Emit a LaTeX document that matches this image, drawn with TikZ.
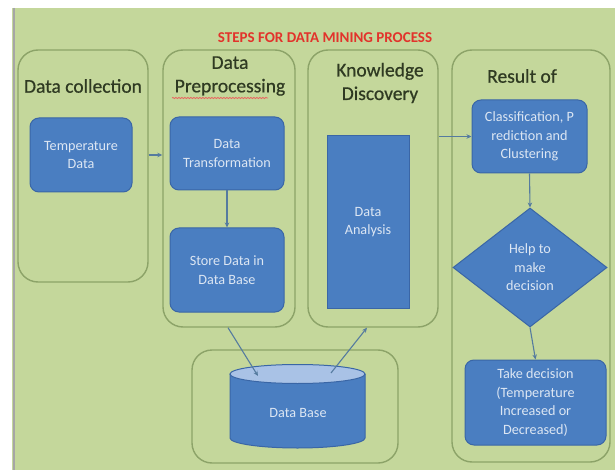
\documentclass[tikz,border=0pt]{standalone}
\usepackage{fontspec}
\setmainfont{Carlito}
\newfontfamily\headfont{Carlito}[FakeBold=0.6]
\usetikzlibrary{shapes.geometric,arrows.meta,calc,decorations.pathmorphing}
\definecolor{bggreen}{HTML}{C4D79B}
\definecolor{colline}{HTML}{8CA368}
\definecolor{boxblue}{HTML}{4A7EC1}
\definecolor{boxedge}{HTML}{3A66A6}
\definecolor{boxtext}{HTML}{DCE6F3}
\definecolor{dbtop}{HTML}{A9C2E6}
\definecolor{conn}{HTML}{557B9F}
\definecolor{titlered}{HTML}{E2332B}
\definecolor{headtext}{HTML}{2F3A22}
\tikzset{
  colbox/.style={draw=colline, line width=1.4pt, rounded corners=20pt, inner sep=0pt},
  bluebox/.style={fill=boxblue, draw=boxedge, line width=1pt, rounded corners=9pt,
    inner sep=0pt, align=center, text=boxtext, font=\fontsize{14.2}{18.6}\selectfont},
  plainbox/.style={bluebox, rounded corners=0pt},
  decide/.style={bluebox, diamond, rounded corners=0pt},
  heading/.style={align=center, text=headtext, font=\headfont\fontsize{19.5}{23.5}\selectfont},
  arr/.style={draw=conn, line width=1.1pt, -{Stealth[length=5pt,width=4.5pt]}},
}
\begin{document}
\begin{tikzpicture}[x=1pt,y=-1pt]
\useasboundingbox (0,0) rectangle (615,470);
\fill[white] (0,0) rectangle (615,470);
\fill[bggreen] (12,8) rectangle (615,470);
\draw[gray!70, line width=1.2pt] (14,8) -- (14,470);

% title
\node[text=titlered, font=\bfseries\fontsize{15}{17}\selectfont] (title) at (325,38) {STEPS FOR DATA MINING PROCESS};

% the four stage columns and the database frame
\node[colbox, minimum width=130pt, minimum height=232pt] (c1) at (83,166) {};
\node[colbox, minimum width=132pt, minimum height=277pt] (c2) at (229,188.5) {};
\node[colbox, minimum width=130pt, minimum height=277pt] (c3) at (373,188.5) {};
\node[colbox, minimum width=158pt, minimum height=412pt] (c4) at (531,256) {};
\node[colbox, minimum width=206pt, minimum height=113pt] (c5) at (295,406.5) {};

% column headings
\node[heading] (h1) at (83,86) {Data collection};
\node[heading] (h2) at (230,76) {Data\\Preprocessing};
\node[heading] (h3) at (380,83) {Knowledge\\Discovery};
\node[heading] (h4) at (522,76) {Result of};
\draw[titlered!75, line width=0.8pt, decorate,
      decoration={snake, amplitude=0.6pt, segment length=3pt}] (172,98) -- (268,98);

% process boxes
\node[bluebox, minimum width=102pt, minimum height=74pt] (temp) at (81,155) {Temperature\\Data};
\node[bluebox, minimum width=114pt, minimum height=73pt] (trans) at (227,153.5) {Data\\Transformation};
\node[bluebox, minimum width=114pt, minimum height=84pt] (store) at (227,270) {Store Data in\\Data Base};
\node[plainbox, minimum width=82pt, minimum height=172pt] (anal) at (368,222) {Data\\Analysis};
\node[bluebox, minimum width=115pt, minimum height=73pt] (class) at (529.5,136.5) {Classification, P\\rediction and\\Clustering};
\node[decide, minimum width=154pt, minimum height=119pt] (help) at (530,267.5) {Help to\\make\\decision};
\node[bluebox, minimum width=141pt, minimum height=85pt] (take) at (535.5,402.5) {Take decision\\(Temperature\\Increased or\\Decreased)};

% database cylinder
\fill[boxblue] (230,374) -- (230,438) arc[start angle=180, end angle=0, x radius=67.5, y radius=10] -- (365,374) -- cycle;
\draw[boxedge, line width=1pt] (230,374) -- (230,438) arc[start angle=180, end angle=0, x radius=67.5, y radius=10] -- (365,374);
\draw[boxedge, line width=1pt, fill=dbtop] (297.5,374) ellipse[x radius=67.5, y radius=9.5];
\node[text=boxtext, font=\fontsize{14.2}{16}\selectfont] (db) at (298,413) {Data Base};
\coordinate (dbin) at (258,376);
\coordinate (dbout) at (331,373);

% connectors
\draw[arr] (temp.east -| c1.east) -- (temp.east -| c2.west);
\draw[arr] (trans.south) -- (store.north);
\draw[arr] (class.west -| c3.east) -- (class.west);
\draw[arr] (class.south) -- (help.north);
\draw[arr] (help.south) -- (take.north);
\draw[arr] ([xshift=-1pt]c2.south) -- (dbin);
\draw[arr] (dbout) -- ([xshift=-6pt]c3.south);
\end{tikzpicture}
\end{document}
